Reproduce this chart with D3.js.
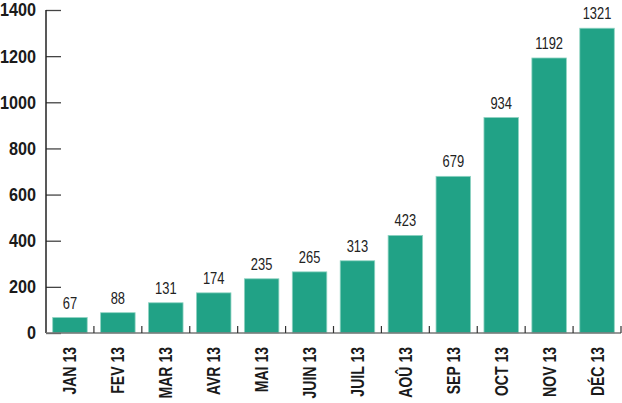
<!DOCTYPE html>
<html>
<head>
<meta charset="utf-8">
<script src="https://cdn.jsdelivr.net/npm/d3@7"></script>
<style>
  body { margin: 0; background: #fff; }
  svg text { font-family: "Liberation Sans", Arial, sans-serif; }
</style>
</head>
<body>
<div id="chart"></div>
<script>
var months = ['JAN 13', 'FEV 13', 'MAR 13', 'AVR 13', 'MAI 13', 'JUIN 13',
  'JUIL 13', 'AOÛ 13', 'SEP 13', 'OCT 13', 'NOV 13', 'DÉC 13'];
var values = [67, 88, 131, 174, 235, 265, 313, 423, 679, 934, 1192, 1321];
var yTicks = [0, 200, 400, 600, 800, 1000, 1200, 1400];

(function() {
  var WIDTH = 622, HEIGHT = 403;
  var margin = {top: 10, right: 1, bottom: 70, left: 46};
  var barColor = '#21a286';

  var svg = d3.select('#chart').append('svg')
    .attr('width', WIDTH)
    .attr('height', HEIGHT);

  var x = d3.scaleBand()
    .domain(months)
    .range([margin.left, WIDTH - margin.right])
    .paddingInner(0.28)
    .paddingOuter(0.14);

  var y = d3.scaleLinear()
    .domain([0, 1400])
    .range([HEIGHT - margin.bottom, margin.top]);

  // bars
  svg.append('g').selectAll('rect')
    .data(values)
    .enter().append('rect')
    .attr('x', function(d, i) { return x(months[i]); })
    .attr('y', function(d) { return y(d); })
    .attr('width', x.bandwidth())
    .attr('height', function(d) { return y(0) - y(d); })
    .attr('fill', barColor)
    .attr('stroke', '#8fd3c2')
    .attr('stroke-width', 0.8);

  // value labels (squeezed to look like a condensed face)
  svg.append('g').selectAll('text')
    .data(values)
    .enter().append('text')
    .attr('transform', function(d, i) {
      return 'translate(' + (x(months[i]) + x.bandwidth() / 2) + ',' + (y(d) - 9) + ') scale(0.76,1)';
    })
    .attr('text-anchor', 'middle')
    .attr('font-size', 17)
    .attr('fill', '#222')
    .text(function(d) { return d; });

  // y axis
  var yAxis = svg.append('g')
    .attr('transform', 'translate(' + margin.left + ',0)')
    .call(d3.axisRight(y).tickValues(yTicks).tickSize(15).tickFormat(''));
  yAxis.select('.domain').remove();
  yAxis.selectAll('.tick line').attr('stroke', '#444').attr('stroke-width', 1.3);

  svg.append('line')
    .attr('x1', margin.left).attr('x2', margin.left)
    .attr('y1', y(1400)).attr('y2', y(0))
    .attr('stroke', '#222').attr('stroke-width', 1.5);

  svg.append('g').selectAll('text')
    .data(yTicks)
    .enter().append('text')
    .attr('transform', function(d) {
      return 'translate(' + (margin.left - 10) + ',' + y(d) + ') scale(0.9,1)';
    })
    .attr('dy', '0.36em')
    .attr('text-anchor', 'end')
    .attr('font-size', 18)
    .attr('font-weight', 'bold')
    .attr('fill', '#1a1a1a')
    .text(function(d) { return d; });

  // x axis
  var xAxis = svg.append('g')
    .attr('transform', 'translate(0,' + y(0) + ')');
  xAxis.append('line')
    .attr('x1', margin.left).attr('x2', WIDTH - margin.right)
    .attr('stroke', '#777').attr('stroke-width', 1.5);

  var step = x.step();
  var bounds = months.map(function(m, i) { return margin.left + step * (i + 1); });
  xAxis.selectAll('.sep')
    .data(bounds)
    .enter().append('line')
    .attr('class', 'sep')
    .attr('x1', function(d) { return d; }).attr('x2', function(d) { return d; })
    .attr('y1', 0).attr('y2', -7)
    .attr('stroke', '#333').attr('stroke-width', 1.2);

  xAxis.selectAll('.lbl')
    .data(months)
    .enter().append('text')
    .attr('class', 'lbl')
    .attr('transform', function(d) {
      return 'translate(' + (x(d) + x.bandwidth() / 2) + ',14) rotate(-90) scale(0.78,1)';
    })
    .attr('dy', '0.36em')
    .attr('text-anchor', 'end')
    .attr('font-size', 18)
    .attr('font-weight', 'bold')
    .attr('fill', '#1a1a1a')
    .text(function(d) { return d; });
})();
</script>
</body>
</html>
